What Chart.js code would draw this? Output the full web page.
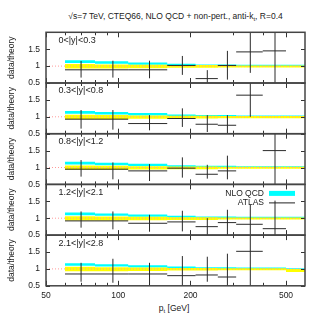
<!DOCTYPE html>
<html>
<head>
<meta charset="utf-8">
<script src="https://cdn.jsdelivr.net/npm/chart.js@4.4.1/dist/chart.umd.min.js"></script>
<style>
  html, body { margin: 0; padding: 0; background: #fff; }
  #wrap { position: relative; width: 319px; height: 319px; overflow: hidden; font-family: "Liberation Sans", Arial, sans-serif; color: #222; }
  #wrap canvas { position: absolute; left: 0; top: 0; }
  .txt { position: absolute; white-space: nowrap; font-size: 8.5px; line-height: 10px; transform: translateX(-50%); }
  .txt sub { font-size: 6px; line-height: 0; vertical-align: -2px; }
  #title { left: 175.5px; top: 10.5px; }
  #xtitle { left: 174px; top: 303px; }
</style>
</head>
<body>
<div id="wrap">
  <div class="txt" id="title">√s=7 TeV, CTEQ66, NLO QCD + non-pert., anti-k<sub>t</sub>, R=0.4</div>
  <div class="txt" id="xtitle">p<sub>t</sub> [GeV]</div>
</div>
<script>
// pt binning (GeV)
const binEdges = [60, 80, 110, 160, 210, 260, 310, 400, 500, 600];
const ptCenters = [70, 95, 135, 185, 235, 285, 355, 450];
const xTicks = [50, 60, 70, 80, 90, 100, 200, 300, 400, 500];
const xLabels = [50, 100, 200, 500];
const yTicks = [0.5, 1, 1.5, 2];

const rapidityBins = ['0<|y|<0.3', '0.3<|y|<0.8', '0.8<|y|<1.2', '1.2<|y|<2.1', '2.1<|y|<2.8'];
const seriesNames = ['NLO QCD', 'ATLAS'];

// ATLAS data / theory, one row per rapidity bin (null = no point)
const atlasRatio = [
    [0.89, 0.89, 0.89, 1.02, 0.63, 1.02, 1.42, 1.45],
    [0.93, 0.93, 0.80, 0.95, 0.78, 0.75, 1.64, null],
    [0.95, 0.95, 0.90, 0.98, 0.80, 0.90, null, 1.50],
    [0.92, 0.92, 0.85, 0.89, 0.75, 0.87, 0.82, 0.69],
    [0.85, 0.85, 0.85, 0.80, 0.82, 0.76, 1.52, null]
];
const atlasHigh = [
    [1.15, 1.16, 1.16, 1.30, 0.88, 1.45, 1.98, 2.30],
    [1.20, 1.20, 1.05, 1.25, 1.05, 1.05, 2.30, null],
    [1.22, 1.15, 1.10, 1.30, 1.08, 1.35, null, 2.30],
    [1.20, 1.20, 1.10, 1.22, 1.00, 1.25, 1.40, 1.52],
    [1.18, 1.30, 1.18, 1.38, 1.36, 1.45, 2.30, null]
];
const atlasLow = [
    [0.66, 0.66, 0.64, 0.74, 0.40, 0.60, 0.80, 0.40],
    [0.65, 0.62, 0.60, 0.70, 0.55, 0.50, 1.00, null],
    [0.73, 0.65, 0.60, 0.70, 0.67, 0.65, null, 0.40],
    [0.72, 0.67, 0.60, 0.61, 0.50, 0.50, 0.50, 0.45],
    [0.62, 0.59, 0.50, 0.45, 0.62, 0.45, 0.45, null]
];

// NLO QCD band and yellow uncertainty band, per rapidity bin and pt bin
const nloLow = [
    [1.09, 1.07, 1.04, 1.01, 1.00, 1.00, 0.99, 0.99, 0.99],
    [1.09, 1.07, 1.04, 1.01, 1.00, 1.00, 0.99, 0.99, 0.99],
    [1.09, 1.07, 1.04, 1.01, 1.00, 1.00, 0.99, 0.99, 0.99],
    [1.09, 1.07, 1.04, 1.01, 1.00, 1.00, 0.99, 0.99, 0.99],
    [1.09, 1.07, 1.04, 1.01, 1.00, 1.00, 0.99, 0.99, 0.98]
];
const nloHigh = [
    [1.17, 1.14, 1.11, 1.07, 1.05, 1.05, 1.04, 1.04, 1.04],
    [1.17, 1.14, 1.11, 1.07, 1.05, 1.05, 1.04, 1.04, 1.04],
    [1.17, 1.14, 1.11, 1.07, 1.05, 1.05, 1.04, 1.04, 1.04],
    [1.17, 1.14, 1.11, 1.07, 1.05, 1.05, 1.04, 1.04, 1.04],
    [1.17, 1.14, 1.11, 1.07, 1.05, 1.05, 1.04, 1.04, 1.02]
];
const uncLow = [
    [0.93, 0.93, 0.94, 0.95, 0.95, 0.96, 0.96, 0.96, 0.96],
    [0.93, 0.93, 0.94, 0.95, 0.95, 0.96, 0.96, 0.96, 0.96],
    [0.93, 0.93, 0.94, 0.95, 0.95, 0.96, 0.96, 0.96, 0.96],
    [0.93, 0.93, 0.94, 0.95, 0.95, 0.96, 0.96, 0.96, 0.96],
    [0.93, 0.93, 0.94, 0.95, 0.95, 0.96, 0.96, 0.96, 0.91]
];
const uncHigh = [
    [1.06, 1.05, 1.04, 1.03, 1.03, 1.02, 1.02, 1.02, 1.02],
    [1.06, 1.05, 1.04, 1.03, 1.03, 1.02, 1.02, 1.02, 1.02],
    [1.06, 1.05, 1.04, 1.03, 1.03, 1.02, 1.02, 1.02, 1.02],
    [1.06, 1.05, 1.04, 1.03, 1.03, 1.02, 1.02, 1.02, 1.02],
    [1.06, 1.05, 1.04, 1.03, 1.03, 1.02, 1.02, 1.02, 1.00]
];

const CYAN = '#00ffff';
const YELLOW = '#ffff00';
const INK = '#222';

const PLOT_TOP = 32.3, PANEL_H = 50.7, PAGE = 319;

function stepPoints(vals) {
    return binEdges.map((e, i) => ({ x: e, y: vals[Math.min(i, vals.length - 1)] }));
}

// error bar crosses: vertical error + horizontal bin width, split by null gaps
function crossPoints(ratio, lo, hi) {
    const pts = [];
    ratio.forEach((v, i) => {
        if (v == null) return;
        const c = ptCenters[i];
        pts.push({ x: c, y: lo[i] }, { x: c, y: hi[i] }, { x: c, y: null });
        pts.push({ x: binEdges[i], y: v }, { x: binEdges[i + 1], y: v }, { x: binEdges[i + 1], y: null });
    });
    return pts;
}

const panelFrame = {
    id: 'panelFrame',
    afterDatasetsDraw(chart, args, opts) {
        const { ctx, chartArea: a, scales: { x, y } } = chart;
        ctx.save();
        ctx.strokeStyle = '#333';
        ctx.lineWidth = 1;
        ctx.beginPath();
        xTicks.forEach(v => {
            const px = Math.round(x.getPixelForValue(v)) + 0.5;
            const len = xLabels.includes(v) ? 5 : 3;
            ctx.moveTo(px, a.bottom); ctx.lineTo(px, a.bottom - len);
            ctx.moveTo(px, a.top); ctx.lineTo(px, a.top + len);
        });
        yTicks.forEach(v => {
            const py = Math.round(y.getPixelForValue(v)) + 0.5;
            ctx.moveTo(a.left, py); ctx.lineTo(a.left + 4, py);
            ctx.moveTo(a.right, py); ctx.lineTo(a.right - 4, py);
        });
        ctx.stroke();
        ctx.strokeStyle = '#444';
        ctx.lineWidth = 1.5;
        ctx.strokeRect(a.left, a.top, a.right - a.left, a.bottom - a.top);

        ctx.fillStyle = INK;
        ctx.font = '9px "Liberation Sans", Arial, sans-serif';
        ctx.textBaseline = 'middle';
        ctx.fillText(opts.label, a.left + 12.5, a.top + 8);
        ctx.restore();
    }
};

const panelLegend = {
    id: 'panelLegend',
    afterDraw(chart, args, opts) {
        if (!opts.show) return;
        const { ctx, chartArea: a } = chart;
        const x0 = a.right - 36, x1 = a.right - 10;
        ctx.save();
        ctx.font = '8.5px "Liberation Sans", Arial, sans-serif';
        ctx.textAlign = 'right';
        ctx.textBaseline = 'middle';
        ctx.fillStyle = INK;
        ctx.fillText(seriesNames[0], x0 - 5, a.top + 9);
        ctx.fillText(seriesNames[1], x0 - 5, a.top + 18.5);
        ctx.fillStyle = CYAN;
        ctx.fillRect(x0, a.top + 6.5, x1 - x0, 5);
        ctx.strokeStyle = INK;
        ctx.lineWidth = 1;
        ctx.beginPath();
        ctx.moveTo(x0, a.top + 18.5); ctx.lineTo(x1, a.top + 18.5);
        ctx.stroke();
        ctx.restore();
    }
};

const wrap = document.getElementById('wrap');

rapidityBins.forEach((label, i) => {
    const isLast = i === rapidityBins.length - 1;
    const areaTop = PLOT_TOP + i * PANEL_H;
    const areaBottom = areaTop + PANEL_H;

    const canvas = document.createElement('canvas');
    canvas.width = PAGE;
    canvas.height = PAGE;
    wrap.appendChild(canvas);

    const lineBase = { pointRadius: 0, pointHoverRadius: 0, tension: 0 };

    new Chart(canvas.getContext('2d'), {
        type: 'line',
        data: {
            datasets: [
                { ...lineBase, label: seriesNames[0], data: stepPoints(nloHigh[i]), stepped: 'before', borderWidth: 0, backgroundColor: CYAN, fill: '+1', order: 4 },
                { ...lineBase, data: stepPoints(nloLow[i]), stepped: 'before', borderWidth: 0, fill: false, order: 4 },
                { ...lineBase, data: stepPoints(uncHigh[i]), stepped: 'before', borderWidth: 0, backgroundColor: YELLOW, fill: '+1', order: 3 },
                { ...lineBase, data: stepPoints(uncLow[i]), stepped: 'before', borderWidth: 0, fill: false, order: 3 },
                { ...lineBase, data: [{ x: 50, y: 1 }, { x: 600, y: 1 }], borderColor: '#ff9a9a', borderWidth: 1, borderDash: [1, 2], fill: false, order: 2 },
                { ...lineBase, label: seriesNames[1], data: crossPoints(atlasRatio[i], atlasLow[i], atlasHigh[i]), borderColor: '#2a2a2a', borderWidth: 1, spanGaps: false, fill: false, order: 1 }
            ]
        },
        options: {
            responsive: false,
            animation: false,
            devicePixelRatio: 1,
            events: [],
            layout: { padding: { top: areaTop, bottom: isLast ? 0 : PAGE - areaBottom, left: 0, right: 14 } },
            plugins: {
                legend: { display: false },
                tooltip: { enabled: false },
                panelFrame: { label },
                panelLegend: { show: i === 3 }
            },
            scales: {
                x: {
                    type: 'logarithmic',
                    min: 50,
                    max: 600,
                    display: isLast,
                    grid: { display: false, drawTicks: false },
                    border: { display: false },
                    afterBuildTicks: s => { s.ticks = xTicks.map(v => ({ value: v })); },
                    afterFit: isLast ? (s => { s.height = PAGE - areaBottom; }) : undefined,
                    ticks: {
                        autoSkip: false,
                        maxRotation: 0,
                        padding: 5,
                        color: INK,
                        font: { family: '"Liberation Sans", Arial, sans-serif', size: 8.5 },
                        callback: v => xLabels.includes(v) ? String(v) : ''
                    }
                },
                y: {
                    min: 0.5,
                    max: 2,
                    grid: { display: false, drawTicks: false },
                    border: { display: false },
                    afterBuildTicks: s => { s.ticks = yTicks.map(v => ({ value: v })); },
                    afterFit: s => { s.width = 46; },
                    ticks: {
                        padding: 6,
                        color: INK,
                        font: { family: '"Liberation Sans", Arial, sans-serif', size: 8.5 },
                        callback: v => v === 2 ? '' : String(v)
                    },
                    title: {
                        display: true,
                        text: 'data/theory',
                        color: INK,
                        padding: { top: 7, bottom: 0 },
                        font: { family: '"Liberation Sans", Arial, sans-serif', size: 8.5 }
                    }
                }
            }
        },
        plugins: [panelFrame, panelLegend]
    });
});
</script>
</body>
</html>
